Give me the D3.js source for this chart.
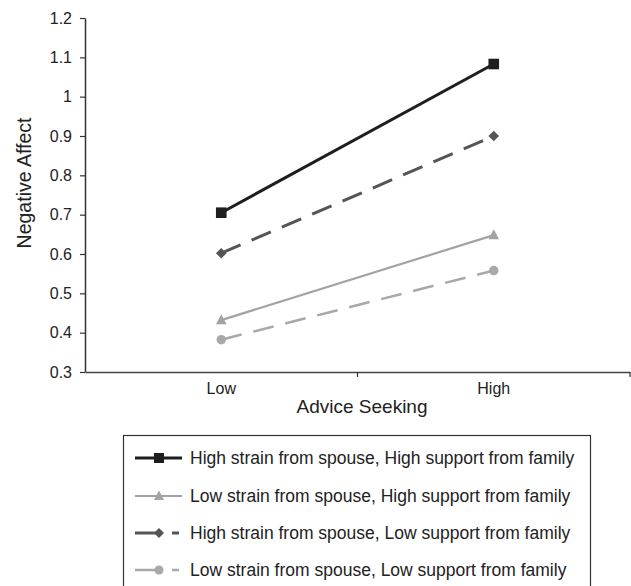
<!DOCTYPE html>
<html><head><meta charset="utf-8">
<script src="https://cdn.jsdelivr.net/npm/d3@7"></script>
<style>body{margin:0;background:#fff;} text{font-family:"Liberation Sans",Arial,sans-serif;}</style>
</head><body>
<svg id="c" width="631" height="586"></svg>
<script>
const categories = ["Low", "High"];
const yTicks = [0.3, 0.4, 0.5, 0.6, 0.7, 0.8, 0.9, 1, 1.1, 1.2];
const seriesNames = [
  "High strain from spouse, High support from family",
  "Low strain from spouse, High support from family",
  "High strain from spouse, Low support from family",
  "Low strain from spouse, Low support from family"
];
const hsHighSupport = [0.705, 1.083];
const lsHighSupport = [0.432, 0.648];
const hsLowSupport = [0.602, 0.900];
const lsLowSupport = [0.382, 0.558];

const styles = [
  {color:"#1e1e1e", width:3, dash:null, marker:"square"},
  {color:"#a3a3a3", width:2.2, dash:null, marker:"triangle"},
  {color:"#555", width:3, dash:"21,12", marker:"diamond"},
  {color:"#a8a8a8", width:2.5, dash:"21,12", marker:"circle"}
];
const series = [hsHighSupport, lsHighSupport, hsLowSupport, lsLowSupport];

const FONT = "Liberation Sans, Arial, sans-serif";
const svg = d3.select("#c");
const x = d3.scaleBand().domain(categories).range([85, 630]);
const y = d3.scaleLinear().domain([0.3, 1.2]).range([372, 18]);

// y axis
const ya = svg.append("g").attr("transform","translate(85,0)")
  .call(d3.axisLeft(y).tickValues(yTicks).tickSize(5).tickSizeOuter(0).tickFormat(d3.format("")));
ya.select(".domain").attr("stroke","#333").attr("stroke-width",1.5);
ya.selectAll(".tick line").attr("stroke","#333").attr("stroke-width",1.2);
ya.selectAll(".tick text").attr("font-size",16).attr("fill","#222").attr("x",-13).attr("font-family",FONT);

// x axis
const xa = svg.append("g").attr("transform","translate(0,372)")
  .call(d3.axisBottom(x).tickSize(0).tickPadding(11));
xa.select(".domain").attr("stroke","#444").attr("stroke-width",1.5);
xa.selectAll(".tick text").attr("font-size",16).attr("fill","#222").attr("font-family",FONT);
// category boundary ticks
const bounds = [x(categories[1]), x.range()[1]];
svg.append("g").selectAll("line").data(bounds).join("line")
  .attr("x1",d=>d).attr("x2",d=>d).attr("y1",372).attr("y2",377)
  .attr("stroke","#333").attr("stroke-width",1.2);

svg.append("text").attr("x",362).attr("y",413).attr("text-anchor","middle")
  .attr("font-size",19).attr("fill","#222").text("Advice Seeking");
svg.append("text").attr("transform","translate(31,183) rotate(-90)").attr("text-anchor","middle")
  .attr("font-size",19.5).attr("fill","#222").text("Negative Affect");

function marker(g, type, cx, cy, color, s){
  if(type==="square") g.append("rect").attr("x",cx-s).attr("y",cy-s).attr("width",2*s).attr("height",2*s).attr("fill",color);
  else if(type==="triangle") g.append("path").attr("d",`M${cx},${cy-s*1.1}L${cx+s},${cy+s*0.8}L${cx-s},${cy+s*0.8}Z`).attr("fill",color);
  else if(type==="diamond") g.append("path").attr("d",`M${cx},${cy-s}L${cx+s},${cy}L${cx},${cy+s}L${cx-s},${cy}Z`).attr("fill",color);
  else g.append("circle").attr("cx",cx).attr("cy",cy).attr("r",s*0.9).attr("fill",color);
}

const cx = d => x(d) + x.bandwidth()/2;
const line = d3.line().x((d,i)=>cx(categories[i])).y(d=>y(d));
series.forEach((s,k)=>{
  const st = styles[k];
  const g = svg.append("g");
  g.append("path").datum(s).attr("d",line).attr("fill","none")
    .attr("stroke",st.color).attr("stroke-width",st.width)
    .attr("stroke-dasharray",st.dash);
  s.forEach((v,i)=>marker(g, st.marker, cx(categories[i]), y(v), st.color, 5.3));
});

// legend
const lg = svg.append("g");
lg.append("rect").attr("x",123.5).attr("y",435.5).attr("width",467).attr("height",170)
  .attr("fill","none").attr("stroke","#333").attr("stroke-width",1.2);
const rowY = [458, 496, 533, 570];
seriesNames.forEach((n,k)=>{
  const st = styles[k];
  const ry = rowY[k];
  if(st.dash){
    lg.append("line").attr("x1",135).attr("x2",158).attr("y1",ry).attr("y2",ry).attr("stroke",st.color).attr("stroke-width",st.width);
    lg.append("line").attr("x1",172).attr("x2",179).attr("y1",ry).attr("y2",ry).attr("stroke",st.color).attr("stroke-width",st.width);
  } else {
    lg.append("line").attr("x1",135).attr("x2",182).attr("y1",ry).attr("y2",ry).attr("stroke",st.color).attr("stroke-width",st.width);
  }
  marker(lg, st.marker, 159, ry, st.color, 5);
  lg.append("text").attr("x",190).attr("y",ry+6).attr("font-size",17.5).attr("fill","#222").text(n);
});
</script>
</body></html>
